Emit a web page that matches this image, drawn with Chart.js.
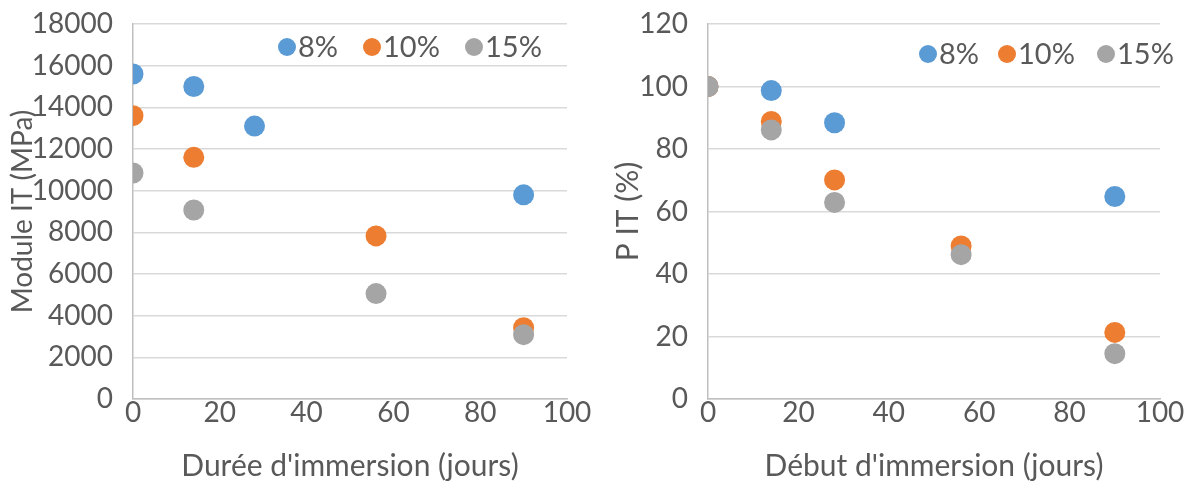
<!DOCTYPE html>
<html><head><meta charset="utf-8">
<script src="https://cdn.jsdelivr.net/npm/chart.js@4"></script>
<style>
html,body{margin:0;padding:0;background:#fff;}
#wrap{position:relative;width:1199px;height:481px;}
#c1{position:absolute;left:0;top:0;}
#c2{position:absolute;left:600px;top:0;}
</style></head>
<body><div id="wrap"><canvas id="c1" width="600" height="481"></canvas><canvas id="c2" width="599" height="481"></canvas></div>
<script>
const seriesLabels = ['8%', '10%', '15%'];
const colors = ['#5B9BD5', '#ED7D31', '#A5A5A5'];

// Left chart: Module IT (MPa) vs Durée d'immersion
const left8x = [0, 14, 28, 90];
const left8y = [15600, 15000, 13100, 9800];
const left10x = [0, 14, 56, 90];
const left10y = [13600, 11600, 7830, 3420];
const left15x = [0, 14, 56, 90];
const left15y = [10850, 9070, 5060, 3090];

// Right chart: P IT (%) vs Début d'immersion
const right8x = [0, 14, 28, 90];
const right8y = [100, 98.7, 88.4, 64.8];
const right10x = [0, 14, 28, 56, 90];
const right10y = [100, 88.8, 70.1, 49.0, 21.3];
const right15x = [0, 14, 28, 56, 90];
const right15y = [100, 86.1, 62.9, 46.2, 14.5];

const leftTitles = { x: "Durée d'immersion (jours)", y: 'Module IT (MPa)' };
const rightTitles = { x: "Début d'immersion (jours)", y: 'P IT (%)' };

const FONT = 'Lato, "Open Sans", sans-serif';
const TXT = '#595959';

function pts(xs, ys) { return xs.map((x, i) => ({ x: x, y: ys[i] })); }

const legendPlugin = {
  id: 'innerLegend',
  afterDraw(chart, args, opts) {
    const ctx = chart.ctx;
    ctx.save();
    ctx.font = '29px ' + FONT;
    ctx.textBaseline = 'middle';
    chart.data.datasets.forEach((ds, i) => {
      const cx = opts.xs[i];
      const cy = opts.y;
      ctx.beginPath();
      ctx.fillStyle = ds.backgroundColor;
      ctx.arc(cx, cy, 9, 0, Math.PI * 2);
      ctx.fill();
      ctx.fillStyle = TXT;
      ctx.textAlign = 'left';
      ctx.fillText(ds.label, cx + 11, cy + 1);
    });
    ctx.restore();
  }
};

function makeChart(id, sets, yMax, yStep, titles, yWidth, legendOpts, padRight, yTitlePad, yTitleSize) {
  const datasets = sets.map((s, i) => ({
    label: seriesLabels[i],
    data: pts(s[0], s[1]),
    backgroundColor: colors[i],
    borderColor: colors[i],
    pointRadius: 10.5,
    pointHoverRadius: 10.5,
    borderWidth: 0,
    order: sets.length - i
  }));
  return new Chart(document.getElementById(id), {
    type: 'scatter',
    data: { datasets: datasets },
    plugins: [legendPlugin],
    options: {
      responsive: false,
      animation: false,
      layout: { padding: { top: 0, right: padRight, left: 0, bottom: 0 } },
      plugins: {
        legend: { display: false },
        tooltip: { enabled: false },
        innerLegend: legendOpts
      },
      scales: {
        x: {
          type: 'linear', min: 0, max: 100,
          ticks: { stepSize: 20, color: TXT, font: { family: FONT, size: 28, lineHeight: 1.0 }, padding: 0,
                   callback: v => String(v) },
          grid: { display: false, drawTicks: false },
          border: { display: true, color: '#BFBFBF', width: 1.5 },
          title: { display: true, text: titles.x, color: TXT, font: { family: FONT, size: 30, lineHeight: 1.0 }, padding: { top: 24, bottom: 0 } }
        },
        y: {
          type: 'linear', min: 0, max: yMax,
          ticks: { stepSize: yStep, color: TXT, font: { family: FONT, size: 28, lineHeight: 1.0 }, padding: 20,
                   callback: v => String(v) },
          grid: { color: '#D9D9D9', lineWidth: 1.5, drawTicks: false },
          border: { display: true, color: '#BFBFBF', width: 1.5 },
          title: { display: true, text: titles.y, color: TXT, font: { family: FONT, size: yTitleSize }, padding: { top: yTitlePad, bottom: 0 } },
          afterFit(scale) { scale.width = yWidth; scale.paddingTop = 24; }
        }
      }
    }
  });
}

makeChart('c1', [[left8x, left8y], [left10x, left10y], [left15x, left15y]], 18000, 2000, leftTitles, 133,
  { xs: [287, 372, 474], y: 47 }, 33, 6, 28);
makeChart('c2', [[right8x, right8y], [right10x, right10y], [right15x, right15y]], 120, 20, rightTitles, 108,
  { xs: [328, 407, 506], y: 54 }, 39, 10, 30);
</script></body></html>
